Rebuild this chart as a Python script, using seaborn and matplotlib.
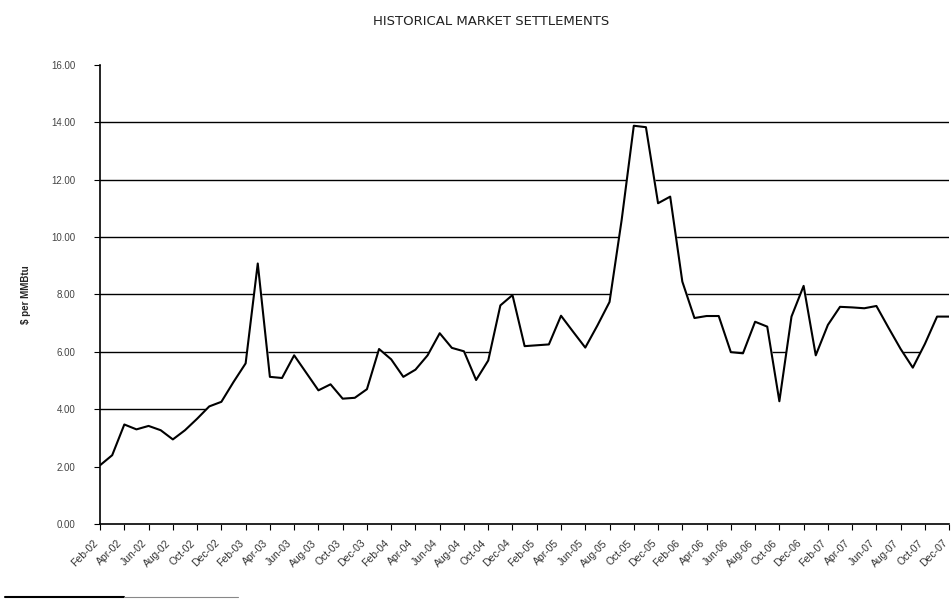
import numpy as np
import pandas as pd
import seaborn as sns
import matplotlib.pyplot as plt
from matplotlib.lines import Line2D

# monthly settlements, Feb-02 .. Dec-07 ($ per MMBtu)
months = pd.date_range("2002-02-01", "2007-12-01", freq="MS").strftime("%b-%y").tolist()
price = [
    2.05, 2.40, 3.47, 3.30, 3.42, 3.27, 2.95, 3.27, 3.67, 4.10, 4.26,          # 2002
    4.95, 5.60, 9.08, 5.13, 5.09, 5.88, 5.27, 4.66, 4.87, 4.37, 4.40, 4.70,    # 2003
    6.10, 5.74, 5.13, 5.38, 5.88, 6.65, 6.14, 6.02, 5.02, 5.70, 7.62, 7.98,    # 2004
    6.20, 6.23, 6.26, 7.26, 6.70, 6.15, 6.92, 7.74, 10.60, 13.88, 13.83, 11.18,  # 2005
    11.41, 8.45, 7.18, 7.25, 7.25, 5.99, 5.95, 7.05, 6.88, 4.28, 7.23, 8.30,   # 2006
    5.88, 6.94, 7.57, 7.55, 7.52, 7.60, 6.84, 6.10, 5.45, 6.28, 7.23, 7.23,    # 2007
]
grid_levels = [2, 4, 6, 8, 10, 12, 14]
y_ticks = [0, 2, 4, 6, 8, 10, 12, 14, 16]

df = pd.DataFrame({"month": months, "price": price})
df["pos"] = np.arange(len(df))

sns.set_style("white")
plt.rcParams["font.family"] = ["Liberation Sans", "DejaVu Sans"]

fig = plt.figure(figsize=(9.53, 6.01), dpi=100)
ax = fig.add_axes([0.105, 0.128, 0.891, 0.764])

# gridlines sit behind an opaque area, so they only show above the curve
for g in grid_levels:
    ax.axhline(g, color="black", lw=1.0, zorder=1)
ax.fill_between(df["pos"], 0, df["price"], color="white", zorder=2)
sns.lineplot(data=df, x="pos", y="price", color="black", lw=1.5, ax=ax, zorder=3)

ax.set_xlim(0, len(df) - 1)
ax.set_ylim(0, 16)
ax.set_yticks(y_ticks)
ax.set_yticklabels([f"{v:.2f}" for v in y_ticks], fontsize=7, color="#444444")
tick_pos = df["pos"][::2]
ax.set_xticks(tick_pos)
ax.set_xticklabels(df["month"][::2], rotation=45, ha="right", va="top",
                   fontsize=7.5, color="#333333")
ax.tick_params(axis="both", direction="out", length=4, width=0.8, color="black",
               bottom=True, left=True, pad=3)
ax.tick_params(axis="x", pad=6)
ax.tick_params(axis="y", pad=14)

for s in ["top", "right"]:
    ax.spines[s].set_visible(False)
for s in ["left", "bottom"]:
    ax.spines[s].set_color("black")
    ax.spines[s].set_linewidth(1.2)
    ax.spines[s].set_zorder(4)

ax.set_xlabel("")
ax.set_ylabel("\\$ per MMBtu", fontsize=7, fontweight="bold", labelpad=14)

fig.suptitle("HISTORICAL MARKET SETTLEMENTS", x=0.515, y=0.975, fontsize=9.5,
             family="DejaVu Sans", color="#222222")

# short rule at the bottom-left of the page
fig.add_artist(Line2D([0.005, 0.13], [0.006, 0.006], color="black", lw=1.5))
fig.add_artist(Line2D([0.13, 0.25], [0.006, 0.006], color="#888888", lw=0.8))

fig.savefig("out.png", dpi=100)
